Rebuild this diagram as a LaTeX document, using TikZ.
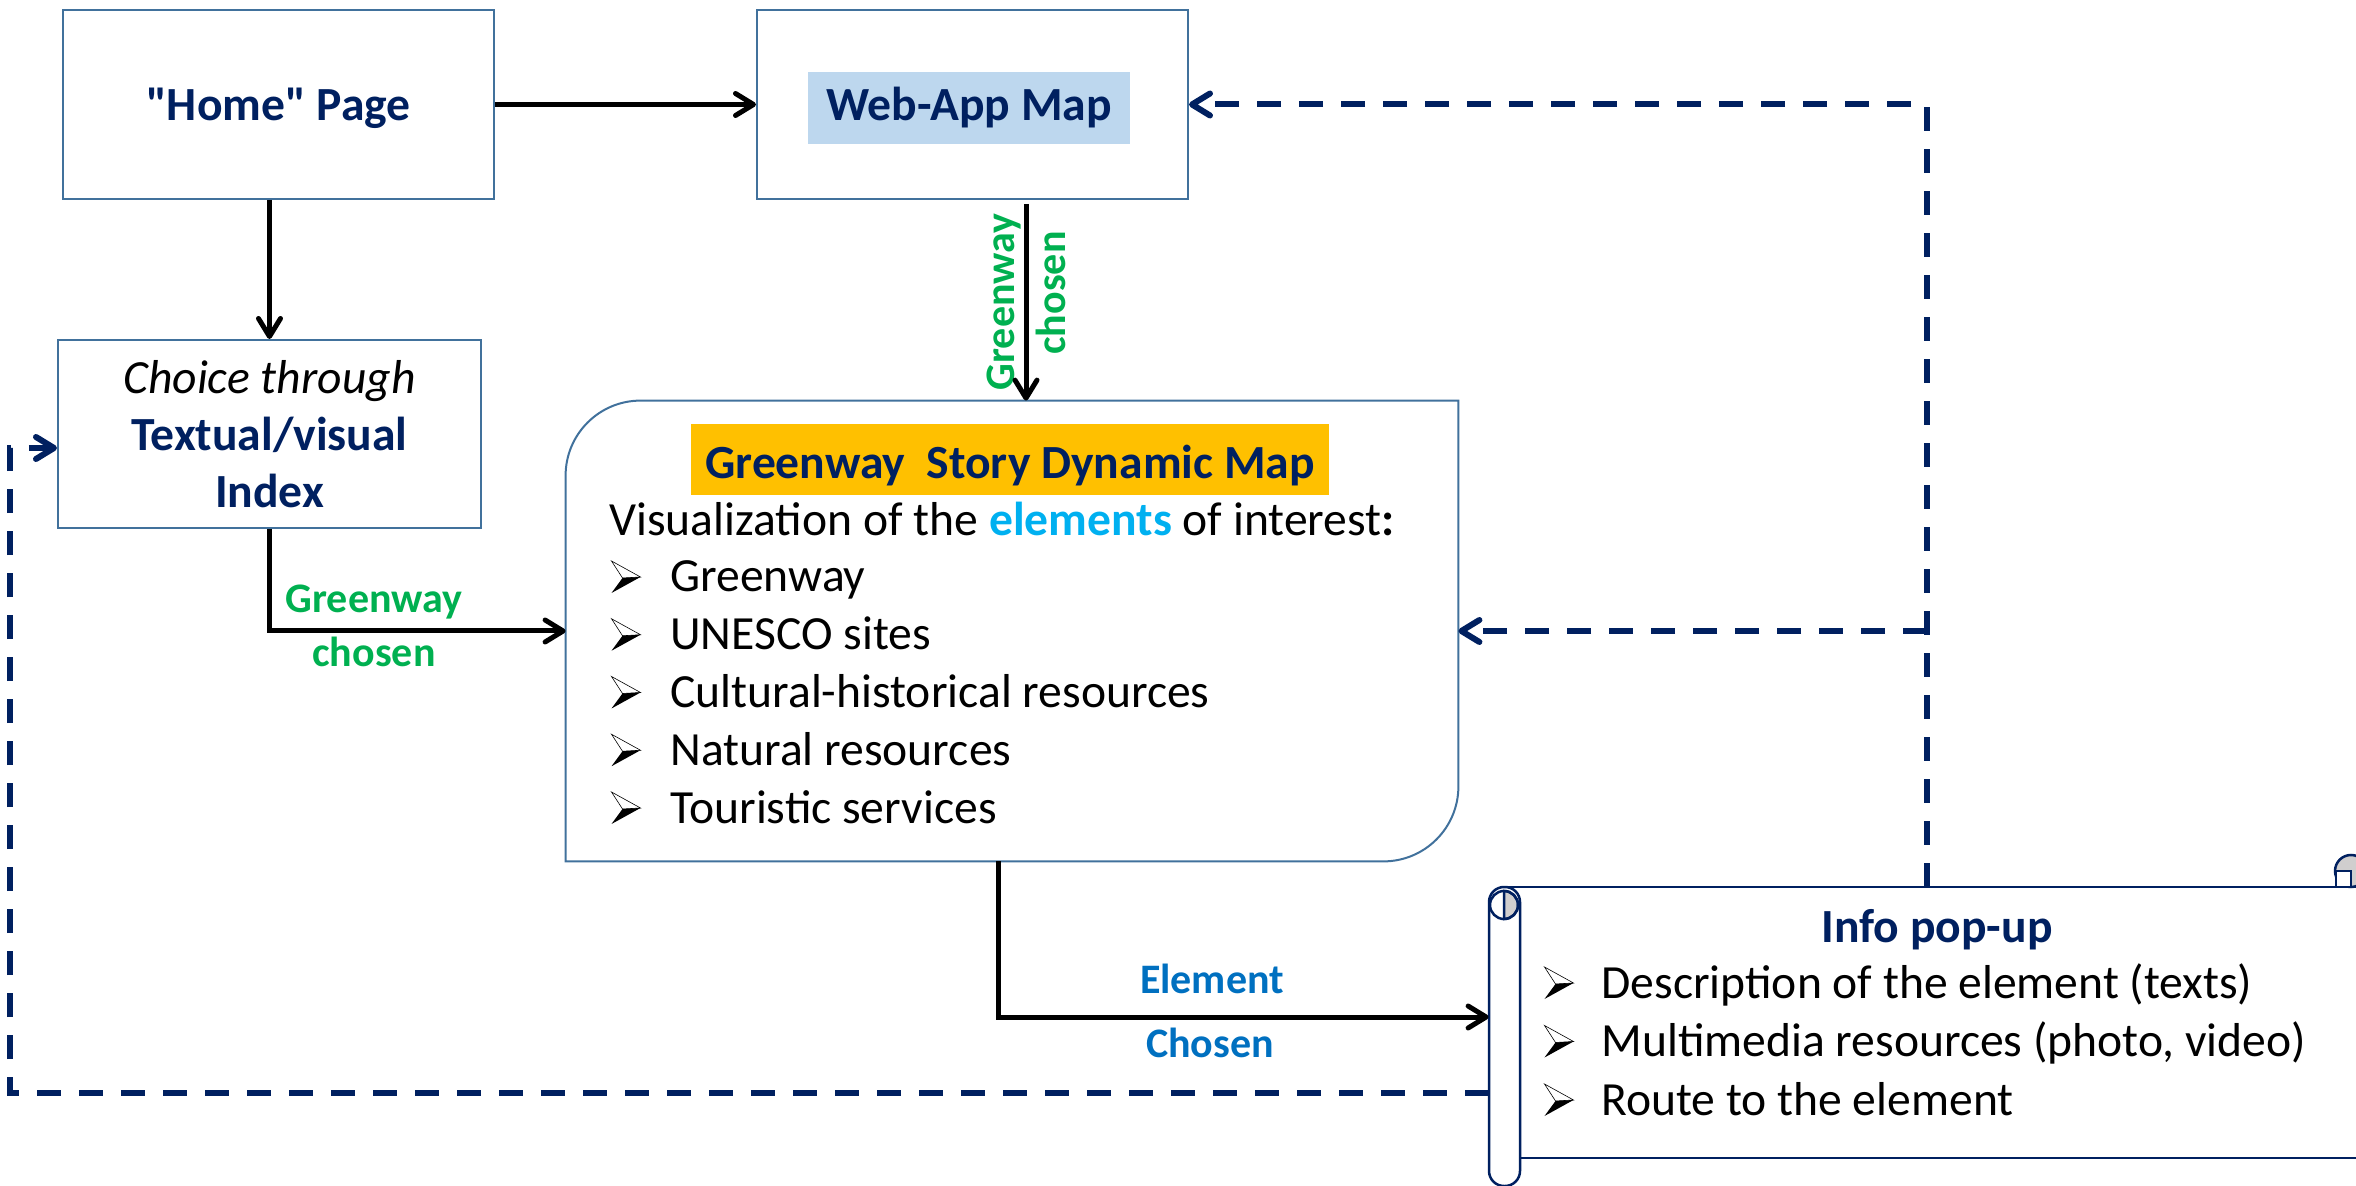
\documentclass[tikz,border=0pt]{standalone}
\usepackage{fontspec}
\setmainfont{Carlito}[Ligatures=TeXOff]
\usetikzlibrary{arrows.meta}
\definecolor{navy}{HTML}{002060}
\definecolor{boxblue}{HTML}{41719C}
\definecolor{greenlab}{HTML}{00B050}
\definecolor{bluelab}{HTML}{0070C0}
\definecolor{cyanword}{HTML}{00B0F0}
\definecolor{mapgold}{HTML}{FFC000}
\definecolor{mapblue}{HTML}{BDD7EE}
\definecolor{curlgray}{HTML}{D0CECE}
\tikzset{
	pagebox/.style={draw=boxblue,line width=1pt,inner sep=0pt},
	txt/.style={inner sep=0pt,font=\fontsize{23.8}{28.5}\selectfont},
	headtxt/.style={inner sep=0pt,text=navy,font=\bfseries\fontsize{23.8}{28.5}\selectfont},
	lab/.style={inner sep=0pt,font=\bfseries\fontsize{21}{25}\selectfont},
	flow/.style={line width=2.5pt,-{Straight Barb[length=9pt,width=11pt,round]}},
	back/.style={draw=navy,line width=3pt,dash pattern=on 12pt off 9pt,-{Straight Barb[length=9pt,width=11pt,round]}},
	scroll/.style={draw=navy,line width=1.25pt},
	arrbul/.pic={
		\filldraw[fill=white,draw=black,line width=0.3pt] (-7.25pt,8pt) -- (7.25pt,0pt) -- (-1.75pt,-0.5pt) -- cycle;
		\fill[black] (-7.25pt,-8pt) -- (7.25pt,0pt) -- (-1.75pt,-0.5pt) -- cycle;
	}
}
\begin{document}
\begin{tikzpicture}[x=0.5pt,y=-0.5pt]
	\useasboundingbox (0,0) rectangle (2356,1186);
	% page boxes
	\node[pagebox,headtxt,minimum width=215.5pt,minimum height=94.5pt,text height=16.5pt,text depth=0pt] (home) at (278.5,104.5) {"Home" Page};
	\node[pagebox,minimum width=215.5pt,minimum height=94.5pt] (webapp) at (972.5,104.5) {};
		\node[headtxt,fill=mapblue,minimum width=161pt,minimum height=36pt,text height=13pt,text depth=0pt] (webtitle) at (969,108) {Web-App Map};
	\node[pagebox,txt,minimum width=211.5pt,minimum height=94pt,align=center] (choice) at (269.5,434)
		{\textit{Choice through}\\\textcolor{navy}{\textbf{Textual/visual}}\\\textcolor{navy}{\textbf{Index}}};
	% story map
	\node[minimum width=446pt,minimum height=230pt,inner sep=0pt] (story) at (1012,631) {};
		\draw[boxblue,line width=1pt] (story.south west) -- ([yshift=-37.5pt]story.north west)
			arc[start angle=180,end angle=90,radius=37.5pt] -- (story.north east)
			-- ([yshift=37.5pt]story.south east) arc[start angle=0,end angle=-90,radius=37.5pt] -- cycle;
		\node[headtxt,fill=mapgold,minimum width=319pt,minimum height=35.5pt,text height=19.5pt,text depth=0pt] (storytitle) at (1010,459.5) {Greenway\ \ Story Dynamic Map};
		\node[txt,anchor=base west] (storyintro) at (609,536) {Visualization of the \textcolor{cyanword}{\textbf{elements}} of interest\textbf{:}};
		\foreach \entry [count=\i from 0] in {Greenway,UNESCO sites,Cultural-historical resources,Natural resources,Touristic services}{
			\pic at (626,{577+57.75*\i}) {arrbul};
			\node[txt,anchor=base west] (story\i) at (670,{592+57.75*\i}) {\entry};
		}
	% info pop-up scroll
	\node[minimum width=455.5pt,minimum height=135.5pt,inner sep=0pt] (popup) at (1944.5,1022.5) {};
		\draw[scroll,fill=white] (1505,887) -- (2380,887) -- (2380,1158) -- (1505,1158);
		\draw[scroll,fill=curlgray] (2351,871) circle[radius=8pt];
		\draw[scroll,fill=white] (2336,871) rectangle (2351,887);
		\draw[scroll,fill=white,rounded corners=7.5pt] (1489,887) rectangle (1520,1186);
		\draw[scroll,fill=curlgray] (1504,891) arc[start angle=90,end angle=-90,radius=7pt] -- cycle;
		\draw[scroll] (1504,905) circle[radius=7pt];
		\node[headtxt,anchor=base] (poptitle) at (1937,942) {Info pop-up};
		\foreach \entry [count=\i from 0] in {Description of the element (texts),{Multimedia resources (photo, video)},Route to the element}{
			\pic at (1559,{983+58.5*\i}) {arrbul};
			\node[txt,anchor=base west] (pop\i) at (1601,{998+58.5*\i}) {\entry};
		}
	% labels
	\node[lab,text=greenlab,rotate=90,anchor=base] (gwmap) at (1014,302) {Greenway};
	\node[lab,text=greenlab,rotate=90,anchor=base] (chmap) at (1065,293) {chosen};
	\node[lab,text=greenlab,anchor=base] (gwindex) at (374,613) {Greenway};
	\node[lab,text=greenlab,anchor=base] (chindex) at (374,667) {chosen};
	\node[lab,text=bluelab,anchor=base] (elem) at (1212,993) {Element};
	\node[lab,text=bluelab,anchor=base] (elemch) at (1210,1057) {Chosen};
	% connectors
	\draw[flow] (home) -- (webapp);
	\draw[flow] (home.south -| choice.north) -- (choice.north);
	\draw[flow,shorten <=2pt] ([xshift=26.75pt]webapp.south) -- ([xshift=26.75pt]webapp.south |- story.north);
	\draw[flow] (choice.south) |- (story.west);
	\draw[flow] ([xshift=-7pt]story.south) |- ([yshift=2.75pt]popup.west);
	% feedback
	\coordinate (fbtop) at (1927,104.5);
	\coordinate (fbleft) at (10,448);
	\draw[back] (popup.north -| fbtop) -- (fbtop) -- (webapp.east);
	\draw[back] (fbtop |- story.east) -- (story.east);
	\draw[back] ([yshift=-35pt]popup.west) -| (fbleft) -- (choice.west |- fbleft);
\end{tikzpicture}
\end{document}
